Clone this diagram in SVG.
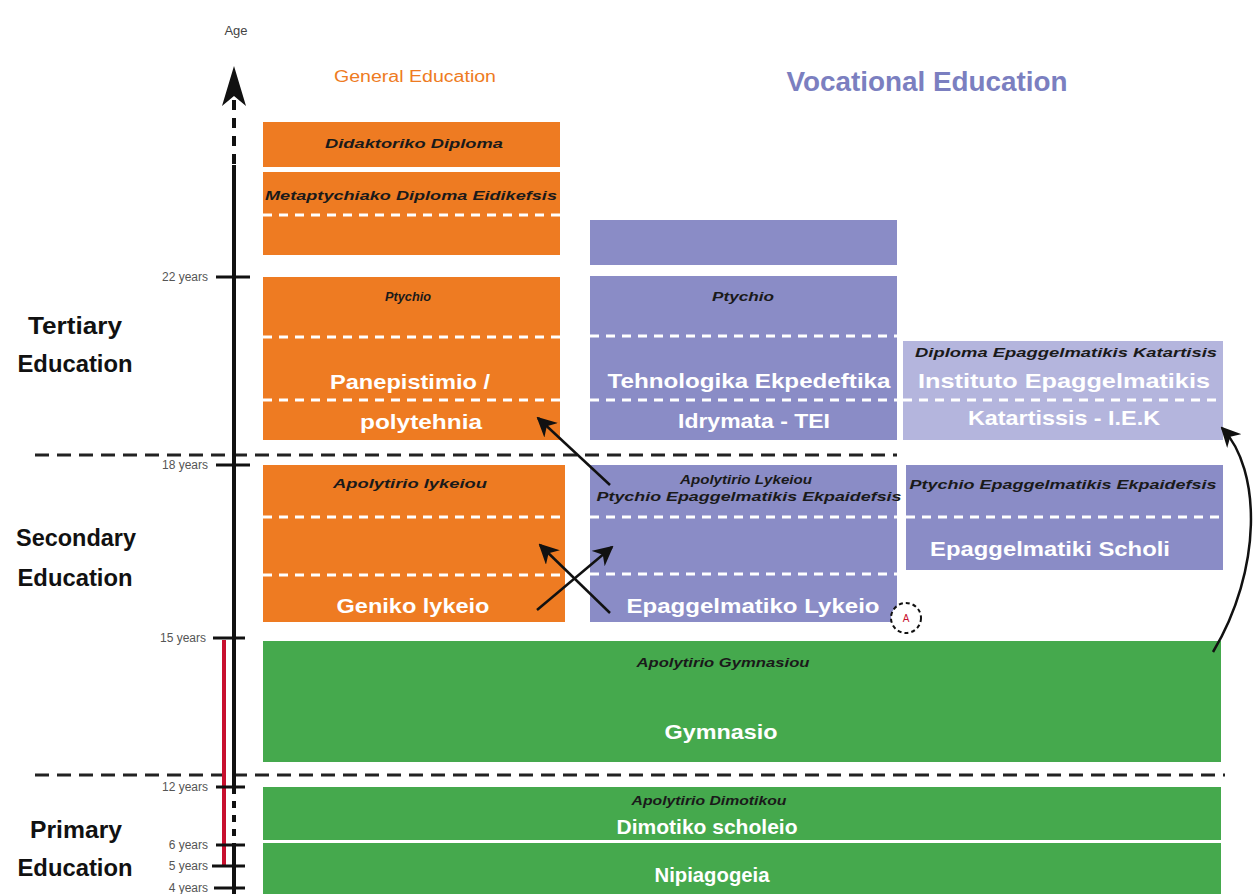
<svg xmlns="http://www.w3.org/2000/svg" width="1253" height="894" viewBox="0 0 1253 894">
<defs>
<marker id="ah" viewBox="0 0 10 10" refX="9" refY="5" markerWidth="8" markerHeight="8" orient="auto-start-reverse" markerUnits="strokeWidth">
<path d="M0,0 L10,5 L0,10 L3,5 z" fill="#111"/>
</marker>
<style>
.or{fill:#EE7B22}
.pu{fill:#8A8CC6}
.lp{fill:#B4B5DD}
.gr{fill:#45A94D}
.wd{stroke:#fff;stroke-width:3;stroke-dasharray:9 7;fill:none}
.bd{stroke:#222;stroke-width:3;stroke-dasharray:14 8;fill:none}
.lab{font-family:"Liberation Sans",Arial,sans-serif;font-style:italic;font-weight:bold;font-size:13px;fill:#1a1a1a;text-anchor:middle}
.big{font-family:"Liberation Sans",Arial,sans-serif;font-weight:bold;font-size:21px;fill:#fff;text-anchor:middle}
.side{font-family:"Liberation Sans",Arial,sans-serif;font-weight:bold;font-size:24px;fill:#111;text-anchor:middle}
.age{font-family:"Liberation Sans",Arial,sans-serif;font-size:12px;fill:#555;text-anchor:end}
.tick{stroke:#111;stroke-width:3}
.con{stroke:#111;stroke-width:2.5;fill:none}
</style>
</defs>
<rect width="1253" height="894" fill="#fff"/>

<!-- headings -->
<text x="415" y="82" font-family="'Liberation Sans',Arial,sans-serif" font-size="16" fill="#EE7B22" text-anchor="middle" textLength="162" lengthAdjust="spacingAndGlyphs">General Education</text>
<text x="927" y="91" font-family="'Liberation Sans',Arial,sans-serif" font-size="27" font-weight="bold" fill="#7B7FC0" text-anchor="middle" textLength="281" lengthAdjust="spacingAndGlyphs">Vocational Education</text>

<!-- side labels -->
<g id="side-labels">
<text class="side" x="75" y="334" textLength="94" lengthAdjust="spacingAndGlyphs">Tertiary</text>
<text class="side" x="75" y="372" textLength="115" lengthAdjust="spacingAndGlyphs">Education</text>
<text class="side" x="76" y="546" textLength="120" lengthAdjust="spacingAndGlyphs">Secondary</text>
<text class="side" x="75" y="586" textLength="115" lengthAdjust="spacingAndGlyphs">Education</text>
<text class="side" x="76" y="838" textLength="92" lengthAdjust="spacingAndGlyphs">Primary</text>
<text class="side" x="75" y="876" textLength="115" lengthAdjust="spacingAndGlyphs">Education</text>
</g>

<!-- section separators -->
<line class="bd" x1="35" y1="455" x2="897" y2="455"/>
<line class="bd" x1="35" y1="775" x2="1225" y2="775"/>

<!-- age axis -->
<g id="age-axis">
<text x="236" y="35" font-family="'Liberation Sans',Arial,sans-serif" font-size="13" fill="#444" text-anchor="middle">Age</text>
<line x1="224" y1="640" x2="224" y2="866" stroke="#C8102E" stroke-width="4"/>
<line x1="234" y1="100" x2="234" y2="165" stroke="#111" stroke-width="4" stroke-dasharray="10 8"/>
<line x1="234" y1="165" x2="234" y2="787" stroke="#111" stroke-width="4"/>
<line x1="234" y1="787" x2="234" y2="845" stroke="#111" stroke-width="4" stroke-dasharray="7 7"/>
<line x1="234" y1="845" x2="234" y2="894" stroke="#111" stroke-width="4"/>
<path d="M234,66 L246,106 L234,96 L222,106 z" fill="#111"/>
<line class="tick" x1="216" y1="277" x2="250" y2="277"/>
<line class="tick" x1="216" y1="465" x2="250" y2="465"/>
<line class="tick" x1="213" y1="638" x2="245" y2="638"/>
<line class="tick" x1="216" y1="787" x2="245" y2="787"/>
<line class="tick" x1="216" y1="845" x2="245" y2="845"/>
<line class="tick" x1="212" y1="866" x2="245" y2="866"/>
<line class="tick" x1="214" y1="888" x2="245" y2="888"/>
<text class="age" x="208" y="281">22 years</text>
<text class="age" x="208" y="469">18 years</text>
<text class="age" x="206" y="642">15 years</text>
<text class="age" x="208" y="791">12 years</text>
<text class="age" x="208" y="849">6 years</text>
<text class="age" x="208" y="870">5 years</text>
<text class="age" x="208" y="892">4 years</text>
</g>

<!-- General education column -->
<g id="didaktoriko">
<rect class="or" x="263" y="122" width="297" height="45"/>
<text class="lab" x="414" y="148" textLength="178" lengthAdjust="spacingAndGlyphs">Didaktoriko Diploma</text>
</g>
<g id="metaptychiako">
<rect class="or" x="263" y="172" width="297" height="83"/>
<text class="lab" x="411" y="200" textLength="292" lengthAdjust="spacingAndGlyphs">Metaptychiako Diploma Eidikefsis</text>
<line class="wd" x1="263" y1="215" x2="560" y2="215"/>
</g>
<g id="panepistimio">
<rect class="or" x="263" y="277" width="297" height="163"/>
<text class="lab" x="408" y="301" textLength="46" lengthAdjust="spacingAndGlyphs">Ptychio</text>
<line class="wd" x1="263" y1="337" x2="560" y2="337"/>
<text class="big" x="410" y="389" textLength="160" lengthAdjust="spacingAndGlyphs">Panepistimio /</text>
<line class="wd" x1="263" y1="400" x2="560" y2="400"/>
<text class="big" x="421" y="429" textLength="122" lengthAdjust="spacingAndGlyphs">polytehnia</text>
</g>
<g id="geniko-lykeio">
<rect class="or" x="263" y="465" width="302" height="157"/>
<text class="lab" x="410" y="488" textLength="154" lengthAdjust="spacingAndGlyphs">Apolytirio lykeiou</text>
<line class="wd" x1="263" y1="517" x2="565" y2="517"/>
<line class="wd" x1="263" y1="575" x2="565" y2="575"/>
<text class="big" x="413" y="613" textLength="153" lengthAdjust="spacingAndGlyphs">Geniko lykeio</text>
</g>

<!-- Vocational: TEI column -->
<g id="tei-top">
<rect class="pu" x="590" y="220" width="307" height="45"/>
</g>
<g id="tei">
<rect class="pu" x="590" y="276" width="307" height="164"/>
<text class="lab" x="743" y="301" textLength="62" lengthAdjust="spacingAndGlyphs">Ptychio</text>
<line class="wd" x1="590" y1="336" x2="897" y2="336"/>
<text class="big" x="749" y="388" textLength="283" lengthAdjust="spacingAndGlyphs">Tehnologika Ekpedeftika</text>
<line class="wd" x1="590" y1="400" x2="897" y2="400"/>
<text class="big" x="754" y="428" textLength="152" lengthAdjust="spacingAndGlyphs">Idrymata - TEI</text>
</g>
<g id="epaggelmatiko-lykeio">
<rect class="pu" x="590" y="465" width="307" height="157"/>
<text class="lab" x="746" y="484" textLength="132" lengthAdjust="spacingAndGlyphs">Apolytirio Lykeiou</text>
<text class="lab" x="749" y="501" textLength="305" lengthAdjust="spacingAndGlyphs">Ptychio Epaggelmatikis Ekpaidefsis</text>
<line class="wd" x1="590" y1="517" x2="897" y2="517"/>
<line class="wd" x1="590" y1="574" x2="897" y2="574"/>
<text class="big" x="753" y="613" textLength="253" lengthAdjust="spacingAndGlyphs">Epaggelmatiko Lykeio</text>
</g>

<!-- Vocational: IEK column -->
<g id="iek">
<rect class="lp" x="903" y="341" width="320" height="99"/>
<text class="lab" x="1066" y="357" textLength="302" lengthAdjust="spacingAndGlyphs">Diploma Epaggelmatikis Katartisis</text>
<text class="big" x="1064" y="388" fill="#F4F4FA" textLength="292" lengthAdjust="spacingAndGlyphs">Instituto Epaggelmatikis</text>
<line class="wd" x1="903" y1="400" x2="1223" y2="400"/>
<text class="big" x="1064" y="425" textLength="192" lengthAdjust="spacingAndGlyphs">Katartissis - I.E.K</text>
</g>
<g id="epaggelmatiki-scholi">
<rect class="pu" x="906" y="465" width="317" height="105"/>
<text class="lab" x="1063" y="489" textLength="307" lengthAdjust="spacingAndGlyphs">Ptychio Epaggelmatikis Ekpaidefsis</text>
<line class="wd" x1="906" y1="517" x2="1223" y2="517"/>
<text class="big" x="1050" y="556" textLength="240" lengthAdjust="spacingAndGlyphs">Epaggelmatiki Scholi</text>
</g>

<!-- Green rows -->
<g id="gymnasio">
<rect class="gr" x="263" y="641" width="958" height="121"/>
<text class="lab" x="723" y="667" fill="#0a1a0a" textLength="173" lengthAdjust="spacingAndGlyphs">Apolytirio Gymnasiou</text>
<text class="big" x="721" y="739" textLength="113" lengthAdjust="spacingAndGlyphs">Gymnasio</text>
</g>
<g id="dimotiko">
<rect class="gr" x="263" y="787" width="958" height="53"/>
<text class="lab" x="709" y="805" fill="#0a1a0a" textLength="155" lengthAdjust="spacingAndGlyphs">Apolytirio Dimotikou</text>
<text class="big" x="707" y="834" textLength="181" lengthAdjust="spacingAndGlyphs">Dimotiko scholeio</text>
</g>
<g id="nipiagogeia">
<rect class="gr" x="263" y="843" width="958" height="51"/>
<text class="big" x="712" y="882" textLength="115" lengthAdjust="spacingAndGlyphs">Nipiagogeia</text>
</g>

<!-- marker A -->
<g id="marker-a">
<circle cx="906" cy="618" r="15" fill="#fff" stroke="#111" stroke-width="2" stroke-dasharray="4 3"/>
<text x="906" y="622" font-family="'Liberation Sans',Arial,sans-serif" font-size="10" fill="#C8102E" text-anchor="middle">A</text>
</g>

<!-- connectors -->
<g id="connectors">
<line class="con" x1="610" y1="485" x2="538" y2="418" marker-end="url(#ah)"/>
<line class="con" x1="610" y1="613" x2="540" y2="545" marker-end="url(#ah)"/>
<line class="con" x1="537" y1="610" x2="612" y2="547" marker-end="url(#ah)"/>
<path class="con" d="M1213,652 C1262,570 1262,470 1222,428" marker-end="url(#ah)"/>
</g>
</svg>
